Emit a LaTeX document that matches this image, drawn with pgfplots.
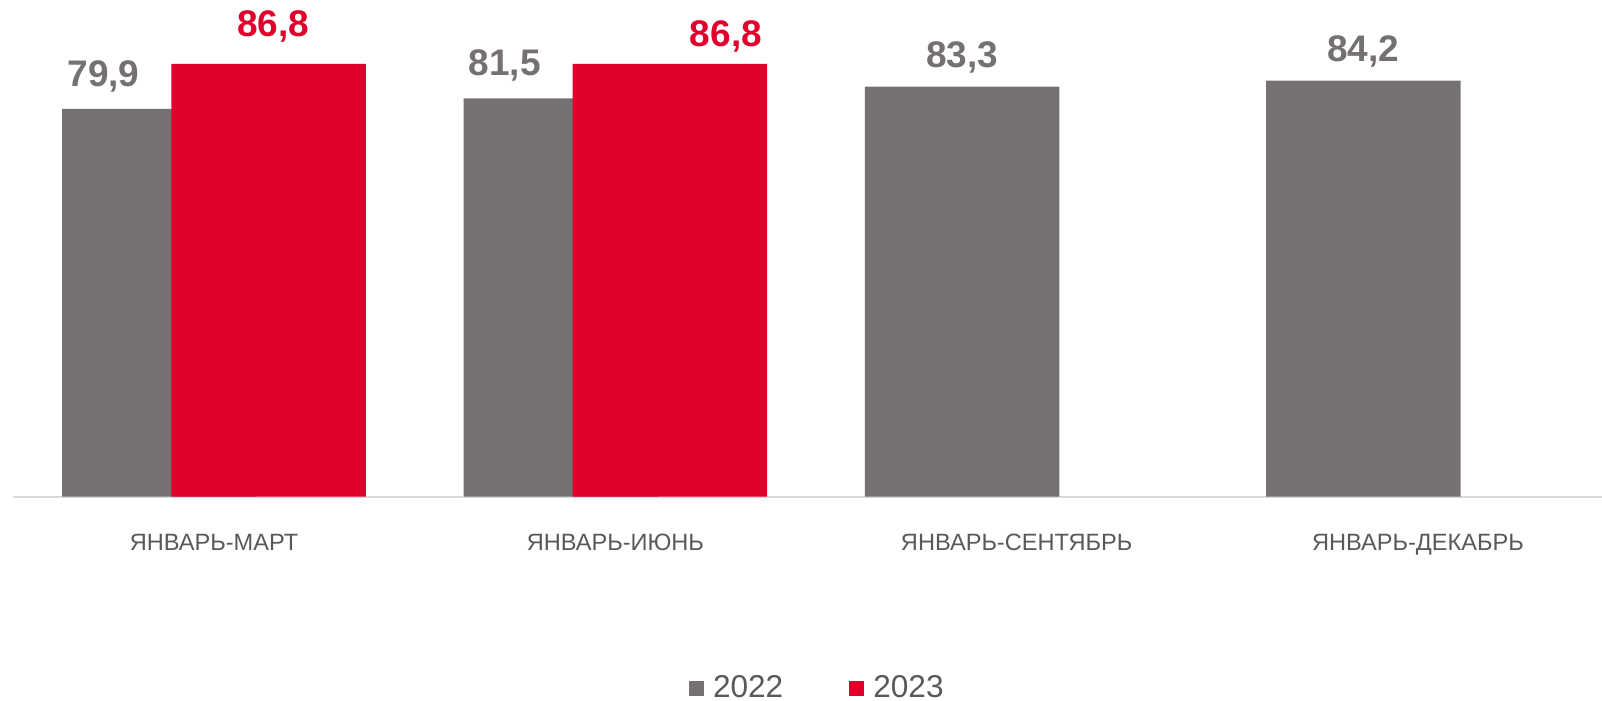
\documentclass[border=0pt]{standalone}
\usepackage{pgfplots}
\usepackage{pgfplotstable}
\pgfplotsset{compat=1.18}
\usepackage{fontspec}
\setmainfont{Liberation Sans}
\definecolor{cgray}{RGB}{118,113,113}
\definecolor{cred}{RGB}{225,0,43}
\definecolor{ctext}{RGB}{89,89,89}
\definecolor{caxis}{RGB}{217,217,217}

\pgfplotstableread{
x y dx dy
-0.136 79.9 -28 11
0.864 81.5 -28 11.35
1.864 83.3 0 9.5
2.864 84.2 0 9.65
}\tgray
\pgfplotstableread{
x y dx dy
0.136 86.8 2.25 13.75
1.136 86.8 28 8.65
}\tred

\begin{document}
\begin{tikzpicture}
\begin{axis}[
  scale only axis,
  width=794.3pt, height=226.9pt,
  xmin=-0.5, xmax=3.4586,
  ymin=20.4, ymax=90,
  clip=false,
  axis y line=none,
  axis x line*=bottom,
  x axis line style={draw=caxis, line width=1.2pt},
  xtick={0,1,2,3},
  xticklabels={ЯНВАРЬ-МАРТ,ЯНВАРЬ-ИЮНЬ,ЯНВАРЬ-СЕНТЯБРЬ,ЯНВАРЬ-ДЕКАБРЬ},
  major tick length=0pt,
  xticklabel style={anchor=base, yshift=-27pt, font=\fontsize{11.8}{13}\selectfont, text=ctext},
  /pgf/number format/.cd, fixed, fixed zerofill, precision=1, use comma, assume math mode=true,
  /pgfplots/.cd,
  legend columns=2,
  legend style={at={(0.4253,-0.4216)}, anchor=base west, draw=none, fill=none,
    inner sep=0pt, outer sep=0pt,
    font=\fontsize{15.8}{18}\selectfont, text=ctext,
    nodes={inner sep=0pt},
    /tikz/every even column/.append style={column sep=33pt}},
]
\addplot[ybar, bar shift=0pt, bar width=0.4847, fill=cgray, draw=none,
  visualization depends on={\thisrow{dx} \as \dx},
  visualization depends on={\thisrow{dy} \as \dy},
  nodes near coords,
  every node near coord/.append style={anchor=base, xshift=\dx pt, yshift=\dy pt,
    font=\fontsize{18.5}{20}\selectfont\bfseries, text=cgray},
  legend image code/.code={\fill[cgray] (0pt,-3.75pt) rectangle (7.5pt,3.75pt); \path (12pt,0pt);}
] table[x=x,y=y] {\tgray};
\addlegendentry{2022}
\addplot[ybar, bar shift=0pt, bar width=0.4847, fill=cred, draw=none,
  visualization depends on={\thisrow{dx} \as \dx},
  visualization depends on={\thisrow{dy} \as \dy},
  nodes near coords,
  every node near coord/.append style={anchor=base, xshift=\dx pt, yshift=\dy pt,
    font=\fontsize{18.5}{20}\selectfont\bfseries, text=cred},
  legend image code/.code={\fill[cred] (0pt,-3.75pt) rectangle (7.5pt,3.75pt); \path (12pt,0pt);}
] table[x=x,y=y] {\tred};
\addlegendentry{2023}
\coordinate (bl) at (rel axis cs:0,0);
\coordinate (tr) at (rel axis cs:1,1);
\end{axis}
\pgfresetboundingbox
\path ([shift={(-6.7pt,-102.15pt)}]bl) rectangle ([shift={(0pt,21.45pt)}]tr);
\end{tikzpicture}
\end{document}
